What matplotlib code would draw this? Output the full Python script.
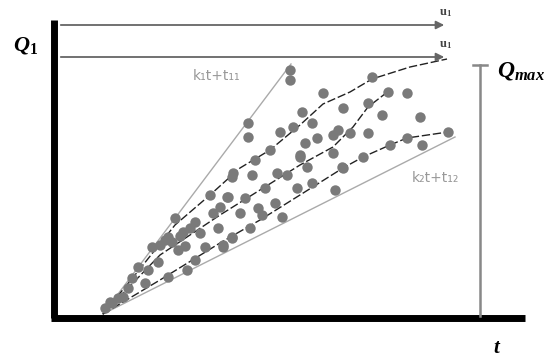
import matplotlib
matplotlib.use('Agg')
import matplotlib.pyplot as plt

plt.rcParams['mathtext.fontset'] = 'custom'
plt.rcParams['mathtext.it'] = 'Liberation Serif:italic:bold'
plt.rcParams['mathtext.rm'] = 'Liberation Serif:bold'
plt.rcParams['mathtext.bf'] = 'Liberation Serif:bold'

# everything below is in picture units (x to the right, y downwards)
origin = (103, 314)

# measured points (t, Q)
dots_t = [290, 290, 248, 248, 323, 302, 312, 293, 280, 270, 317, 300, 233, 252, 277, 287,
          372, 388, 407, 343, 368, 382, 420, 333, 338, 350, 368, 448, 407, 422, 390, 363,
          333, 342, 300, 307, 343, 227, 245, 258, 275, 297, 312, 335, 282, 250, 232, 223,
          175, 195, 210, 228, 232, 213, 152, 165, 172, 178, 205, 223, 232, 138, 168, 187,
          195, 128, 123, 112, 105, 158, 183, 145,
          160, 168, 180, 185, 132, 118, 200, 190, 218, 240, 262, 265, 255, 305, 220, 148, 110]
dots_q = [70, 80, 123, 137, 93, 112, 123, 127, 132, 150, 138, 157, 173, 175, 173, 175,
          77, 92, 93, 108, 103, 115, 117, 135, 130, 133, 133, 132, 138, 145, 145, 157,
          153, 167, 155, 167, 168, 197, 198, 208, 203, 188, 183, 190, 217, 228, 237, 247,
          218, 222, 195, 197, 177, 213, 247, 240, 242, 250, 247, 245, 238, 267, 277, 270,
          260, 288, 297, 303, 308, 262, 232, 283,
          245, 237, 236, 246, 278, 298, 233, 228, 228, 213, 215, 188, 160, 143, 207, 270, 302]

# trend curves through the cloud
curve_top_t = [103, 135, 175, 210, 240, 270, 300, 323, 350, 372, 410, 447]
curve_top_q = [314, 275, 225, 195, 168, 150, 125, 104, 92, 79, 67, 59]
curve_mid_t = [103, 160, 220, 260, 300, 333, 353, 368, 390]
curve_mid_q = [314, 255, 215, 190, 165, 147, 127, 107, 90]
curve_low_t = [103, 160, 220, 260, 300, 343, 363, 390, 407, 448]
curve_low_q = [314, 280, 243, 220, 195, 168, 157, 145, 138, 132]

# bounding lines k1 t + t11 and k2 t + t12
upper_end = (291, 64)
lower_end = (455, 137)

fig = plt.figure(figsize=(5.6, 3.61), dpi=100)
ax = fig.add_axes([0, 0, 1, 1])
ax.set_xlim(0, 560)
ax.set_ylim(361, 0)
ax.axis('off')

# axes of the diagram
ax.plot([54, 54], [20, 318], color='black', lw=5, solid_capstyle='butt')
ax.plot([51, 525], [318, 318], color='black', lw=5, solid_capstyle='butt')

# u1 arrows
for yy in [25, 57]:
    ax.annotate('', xy=(447, yy), xytext=(58, yy),
                arrowprops=dict(arrowstyle='-|>', color='#666666', lw=1.3, mutation_scale=12))
    ax.text(446, yy - 12, r'u$_1$', fontsize=9, family='Liberation Serif', color='#444444',
            ha='center', va='center', fontweight='bold')

# Qmax bar
ax.plot([480, 480], [65, 316], color='#888888', lw=1.8)
ax.plot([473, 487], [65, 65], color='#888888', lw=1.8)

ax.plot([origin[0], upper_end[0]], [origin[1], upper_end[1]], color='#aaaaaa', lw=1)
ax.plot([origin[0], lower_end[0]], [origin[1], lower_end[1]], color='#aaaaaa', lw=1)

for ct, cq in [(curve_top_t, curve_top_q), (curve_mid_t, curve_mid_q), (curve_low_t, curve_low_q)]:
    ax.plot(ct, cq, color='#222222', lw=1, ls=(0, (6, 2)))

ax.plot(dots_t, dots_q, 'o', color='#7a7a7a', ms=7.5, mec='none')

ax.text(217, 76, 'k₁t+t₁₁', fontsize=10, color='#999999', ha='center', va='center',
        family='DejaVu Sans')
ax.text(435, 178, 'k₂t+t₁₂', fontsize=10, color='#999999', ha='center', va='center',
        family='DejaVu Sans')

ax.text(26, 45, r'$Q_\mathrm{1}$', fontsize=16, ha='center', va='center')
ax.text(497, 70, r'$Q_{max}$', fontsize=17, ha='left', va='center')
ax.text(497, 347, r'$t$', fontsize=15, ha='center', va='center')

fig.savefig('out.png', dpi=100)
